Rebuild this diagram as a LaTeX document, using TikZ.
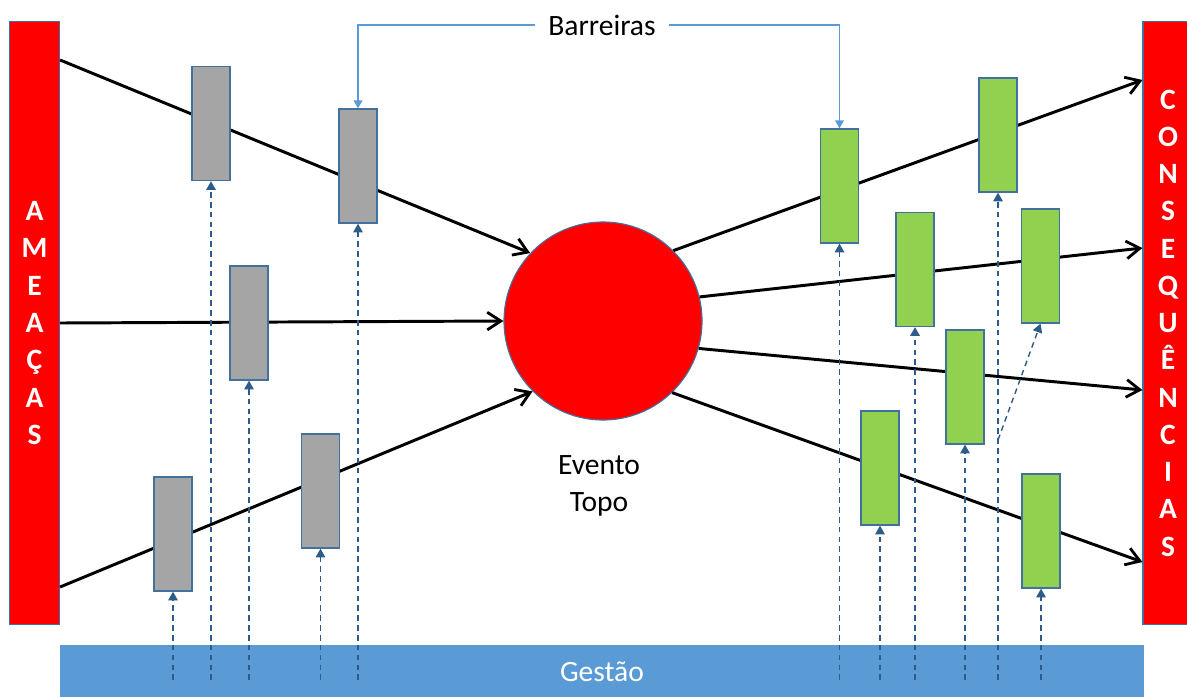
\documentclass[tikz,border=0pt]{standalone}
\usepackage{fontspec}
\setmainfont{Carlito}
\usetikzlibrary{arrows.meta}

\definecolor{vermelho}{HTML}{FF0000}
\definecolor{contorno}{HTML}{41719C}
\definecolor{cinza}{HTML}{A5A5A5}
\definecolor{verde}{HTML}{92D050}
\definecolor{azul}{HTML}{5B9BD5}
\definecolor{tracejado}{HTML}{2E5C8A}

\tikzset{
    barra/.style={draw=contorno, line width=0.8pt, fill=vermelho, text=white,
        font=\bfseries\fontsize{21}{26.5}\selectfont, align=center,
        minimum width=1.25cm, minimum height=15.05cm, inner sep=0pt},
    bloco/.style={draw=contorno, line width=0.9pt, minimum width=0.95cm,
        minimum height=2.85cm, inner sep=0pt},
    prev/.style={bloco, fill=cinza},
    mitig/.style={bloco, fill=verde},
    fluxo/.style={line width=2.1pt, -{Straight Barb[length=3.4mm,width=4.4mm,line width=2pt]}},
    gestao/.style={draw=tracejado, line width=1pt, dash pattern=on 4pt off 3pt,
        -{Triangle[length=2.2mm,width=2.4mm]}},
    aviso/.style={draw=azul, line width=1pt, -{Triangle[length=2mm,width=2.2mm]}},
}

\begin{document}
\begin{tikzpicture}[x=0.025cm, y=-0.025cm]
    \useasboundingbox (0,0) rectangle (1187,696);

    % barras laterais e gestao
    \node[barra] (ameacas) at (34.5,323) {A\\M\\E\\A\\Ç\\A\\S};
    \node[barra] (consequencias) at (1168,323) {C\\O\\N\\S\\E\\Q\\U\\Ê\\N\\C\\I\\A\\S};
    \fill[azul] (60,645) rectangle (1144,699);
    \node[text=white, font=\fontsize{21}{26}\selectfont] (gest) at (602,672) {Gestão};

    % evento topo
    \node[circle, draw=contorno, line width=0.8pt, fill=vermelho, minimum size=4.95cm,
        inner sep=0pt] (topo) at (603,321) {};
    \node[align=center, font=\fontsize{21}{26.3}\selectfont] (rotulo) at (599,486) {Evento\\Topo};

    % caminhos
    \draw[fluxo] (ameacas.east |- 0,60) -- (topo.137);
    \draw[fluxo] (ameacas.east |- 0,323) -- (topo.west);
    \draw[fluxo] (ameacas.east |- 0,587) -- (topo.225);
    \draw[fluxo] (topo.45) -- (consequencias.west |- 0,80);
    \draw[fluxo] (topo.14) -- (consequencias.west |- 0,248);
    \draw[fluxo] (topo.-16) -- (consequencias.west |- 0,390);
    \draw[fluxo] (topo.-46) -- (consequencias.west |- 0,562);

    % barreiras
    \node[prev] (g1) at (211,123.5) {};
    \node[prev] (g2) at (358,166) {};
    \node[prev] (g3) at (249,323) {};
    \node[prev] (g4) at (173,534) {};
    \node[prev] (g5) at (320.5,491) {};

    \node[mitig] (v1) at (839.5,186) {};
    \node[mitig] (v2) at (998,135) {};
    \node[mitig] (v3) at (915,269.5) {};
    \node[mitig] (v4) at (1040.5,266) {};
    \node[mitig] (v5) at (965,387) {};
    \node[mitig] (v6) at (880,468) {};
    \node[mitig] (v7) at (1041,531) {};

    \node[font=\fontsize{21}{26}\selectfont, inner xsep=0.33cm] (barreiras) at (602,25) {Barreiras};
    \draw[aviso] (barreiras.west) -| (g2.north);
    \draw[aviso] (barreiras.east) -| (v1.north);

    % setas da gestao
    \coordinate (base) at (0,680);
    \foreach \b in {g1,g2,g3,g4,g5,v1,v2,v3,v5,v6,v7}
        \draw[gestao] (\b.south |- base) -- (\b.south);
    \coordinate (ramo) at (v2.south |- 0,440);
    \draw[gestao] (ramo) -- (v4.south);
\end{tikzpicture}
\end{document}
